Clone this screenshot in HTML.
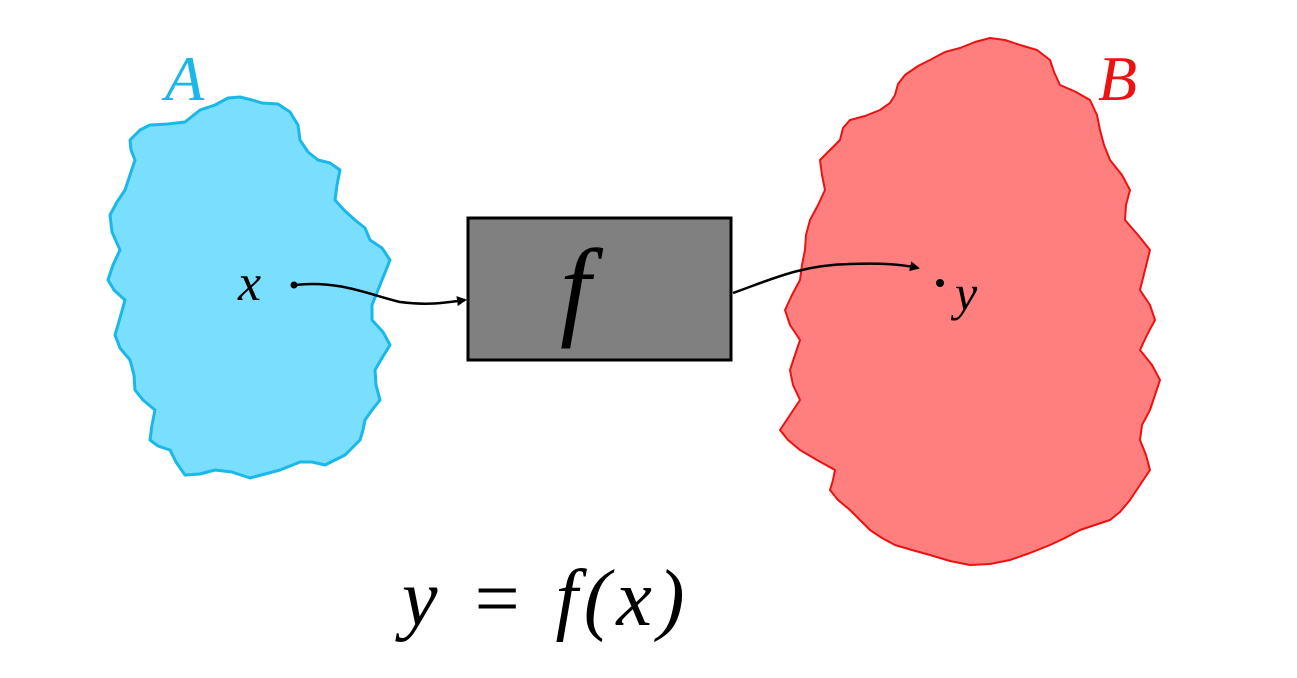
<!DOCTYPE html>
<html><head><meta charset="utf-8"><style>
html,body{margin:0;padding:0;background:#fff;}
svg{display:block;}
text{font-family:"Liberation Serif",serif;font-style:italic;}
</style></head><body>
<svg width="1297" height="678" viewBox="0 0 1297 678" xmlns="http://www.w3.org/2000/svg">
<defs>
<marker id="ah" markerWidth="10" markerHeight="10" refX="8" refY="5" orient="auto" markerUnits="userSpaceOnUse">
<path d="M0,0 L10,5 L0,10 z" fill="#000"/>
</marker>
</defs>
<polygon fill="#7adfff" stroke="#1ab8e8" stroke-width="3" stroke-linejoin="round"
points="185,122 200,110 215,105 228,98 240,97 252,100 262,103 278,104 290,112 298,125 300,140 308,152 318,160 330,163 340,170 337,185 335,200 344,210 355,220 365,228 370,240 382,248 390,260 384,275 378,290 372,305 372,320 383,332 390,345 382,358 375,370 376,385 380,400 372,410 365,420 363,430 360,440 352,448 345,455 335,460 325,465 312,462 300,462 290,466 280,470 265,474 250,478 232,472 215,470 200,474 185,475 176,462 170,450 158,446 150,440 152,425 155,410 143,400 135,390 134,375 130,360 120,348 115,335 120,318 125,300 114,290 108,280 113,265 120,250 112,232 110,215 117,202 125,190 130,175 135,160 131,150 130,140 140,130 150,125 168,124"/>
<polygon fill="#ff7f7f" stroke="#ee1111" stroke-width="2" stroke-linejoin="round"
points="850,120 865,116 880,110 890,103 895,95 898,84 905,75 918,66 930,60 945,52 960,48 975,42 990,38 1005,40 1020,45 1037,50 1050,60 1054,72 1060,85 1076,92 1090,100 1097,115 1100,130 1104,145 1110,160 1122,175 1130,190 1126,205 1125,220 1138,235 1150,250 1145,270 1140,290 1150,305 1155,320 1147,335 1140,350 1152,365 1160,380 1155,395 1150,410 1142,425 1140,440 1146,455 1150,470 1140,485 1130,500 1120,512 1110,520 1095,525 1080,530 1065,538 1050,545 1030,553 1010,560 990,564 970,565 950,561 930,555 912,550 895,545 882,538 870,530 860,520 850,510 838,500 830,490 833,480 835,470 817,460 800,450 788,440 780,430 790,415 800,400 793,385 790,370 795,355 800,340 790,325 785,310 792,295 800,280 802,265 805,250 806,235 810,220 818,205 825,190 822,175 820,160 830,150 840,140 843,128"/>
<rect x="468" y="218" width="263" height="142" fill="#808080" stroke="#000" stroke-width="3"/>
<path d="M295,285 C340,280 370,295 400,302 C430,306 450,302 465,300" fill="none" stroke="#000" stroke-width="2.5" marker-end="url(#ah)"/>
<circle cx="294" cy="285" r="3.5" fill="#000"/>
<path d="M733,293 C770,280 800,265 850,264 C880,263 900,264 918,268" fill="none" stroke="#000" stroke-width="2.5" marker-end="url(#ah)"/>
<circle cx="940" cy="283" r="4" fill="#000"/>
<text x="165" y="100" font-size="64" fill="#1ab8e8">A</text>
<text x="1098" y="100" font-size="64" fill="#ee1111">B</text>
<text x="238" y="300" font-size="52" fill="#000">x</text>
<text x="560" y="325" font-size="110" fill="#000">f</text>
<text x="955" y="310" font-size="50" fill="#000">y</text>
<text x="402" y="625" font-size="80" fill="#000" font-style="normal" letter-spacing="6"><tspan font-style="italic">y</tspan> = <tspan font-style="italic">f</tspan>(<tspan font-style="italic">x</tspan>)</text>
</svg>
</body></html>
